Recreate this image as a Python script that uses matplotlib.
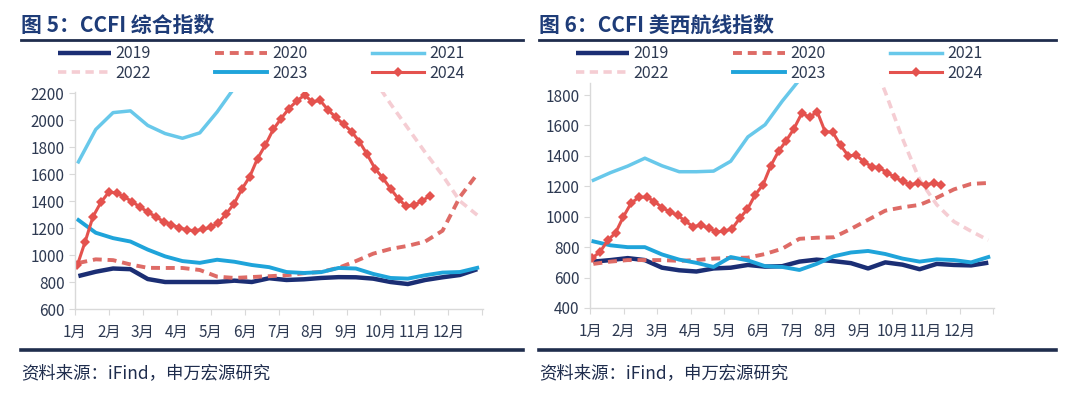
import numpy as np
import matplotlib
matplotlib.use("Agg")
import matplotlib.pyplot as plt
from matplotlib.lines import Line2D

plt.rcParams["font.family"] = ["Noto Sans CJK SC", "DejaVu Sans"]

nan = np.nan
months = [f"{i}月" for i in range(1, 13)]
years = ["2019", "2020", "2021", "2022", "2023", "2024"]

# half-month samples (24 per year) for 2019-2023, weekly for 2024
half_month = np.arange(24)
week = np.arange(46)

# 图5 CCFI 综合指数
ccfi_2019 = [844, 876, 900, 895, 822, 800, 800, 800, 800, 810, 800, 828,
             815, 820, 830, 836, 835, 825, 800, 785, 815, 835, 852, 895]
ccfi_2020 = [941, 968, 962, 930, 905, 904, 904, 889, 840, 830, 837, 843,
             850, 865, 875, 905, 955, 1010, 1045, 1068, 1100, 1180, 1430, 1600]
ccfi_2021 = [1690, 1930, 2055, 2068, 1960, 1900, 1865, 1905, 2060, 2240,
             nan, nan, nan, nan, nan, nan, nan, nan, nan, nan, nan, nan, nan, nan]
ccfi_2022 = [nan, nan, nan, nan, nan, nan, nan, nan, nan, nan, nan, nan,
             nan, nan, nan, nan, nan, 2310, 2120, 1940, 1760, 1590, 1400, 1296]
ccfi_2023 = [1259, 1165, 1125, 1100, 1040, 990, 955, 942, 965, 950, 926, 910,
             874, 867, 873, 904, 900, 860, 830, 825, 850, 870, 874, 905]
ccfi_2024 = [926, 1100, 1285, 1390, 1465, 1460, 1430, 1395, 1355, 1318,
             1284, 1248, 1224, 1202, 1186, 1180, 1190, 1205, 1238, 1305,
             1380, 1488, 1580, 1715, 1815, 1930, 2010, 2085, 2140, 2185,
             2135, 2145, 2075, 2020, 1968, 1915, 1840, 1745, 1640, 1570,
             1490, 1415, 1360, 1370, 1400, 1440]

# 图6 CCFI 美西航线指数
west_2019 = [705, 715, 728, 715, 665, 648, 640, 660, 665, 683, 672, 675,
             705, 718, 708, 695, 660, 700, 685, 655, 690, 683, 680, 698]
west_2020 = [690, 705, 715, 715, 715, 710, 715, 725, 729, 731, 755, 790,
             855, 862, 865, 920, 980, 1040, 1062, 1078, 1125, 1180, 1216, 1222]
west_2021 = [1240, 1290, 1333, 1385, 1335, 1296, 1296, 1300, 1365, 1525,
             1605, 1760, 1900, 2000, nan, nan, nan, nan, nan, nan, nan, nan, nan, nan]
west_2022 = [nan, nan, nan, nan, nan, nan, nan, nan, nan, nan, nan, nan,
             nan, nan, nan, nan, 2100, 1820, 1515, 1243, 1079, 968, 905, 846]
west_2023 = [838, 812, 800, 800, 752, 718, 697, 670, 735, 713, 675, 670,
             650, 690, 740, 765, 775, 755, 725, 705, 720, 715, 700, 735]
west_2024 = [729, 770, 845, 895, 1000, 1090, 1128, 1130, 1100, 1060,
             1032, 1010, 970, 935, 945, 926, 900, 905, 920, 990,
             1050, 1145, 1210, 1335, 1430, 1500, 1580, 1680, 1655, 1690,
             1560, 1555, 1470, 1400, 1405, 1362, 1330, 1322, 1290, 1260,
             1232, 1210, 1222, 1209, 1222, 1209]

colors = ["#1B2E74", "#DE6B66", "#68C8EA", "#F5CDD3", "#1FA4DA", "#E4524E"]
navy = "#1F2D4D"
title_c = "#1E3C78"
tick_c = "#2E3A52"
grid_c = "#D9D9D9"


def hm_pos(i):
    return 0.1 + i * (11.75 / 23)


def wk_pos(i):
    return 0.07 + i * 12 / 52


def draw(ax, series, ylim, yticks):
    xh = hm_pos(half_month)
    xw = wk_pos(week)
    s19, s20, s21, s22, s23, s24 = series
    h = []
    h += ax.plot(xh, s19, color=colors[0], lw=3.2, solid_capstyle="butt")
    h += ax.plot(xh, s20, color=colors[1], lw=2.8, dashes=(2.3, 1.5))
    h += ax.plot(xh, s21, color=colors[2], lw=2.5)
    h += ax.plot(xh, s22, color=colors[3], lw=2.6, dashes=(2.3, 1.5))
    h += ax.plot(xh, s23, color=colors[4], lw=2.8)
    h += ax.plot(xw, s24, color=colors[5], lw=2.2, marker="D", ms=5.5,
                 markeredgewidth=0)
    ax.set_xlim(0, 12.02)
    ax.set_ylim(*ylim)
    ax.set_xticks(range(13))
    ax.set_xticklabels(months + [""])
    ax.set_yticks(yticks)
    for sp in ["top", "right"]:
        ax.spines[sp].set_visible(False)
    for sp in ["left", "bottom"]:
        ax.spines[sp].set_color(grid_c)
        ax.spines[sp].set_linewidth(1)
    ax.tick_params(axis="both", direction="out", length=4, color=grid_c,
                   labelcolor=tick_c, labelsize=11)
    ax.tick_params(axis="x", pad=7)
    order = [0, 3, 1, 4, 2, 5]
    return [h[i] for i in order], [years[i] for i in order]


fig = plt.figure(figsize=(10.8, 3.97), dpi=100)
W, H = 1080, 397

ax1 = fig.add_axes([75 / W, (H - 309) / H, 408 / W, (309 - 91.7) / H])
hl, ll = draw(ax1, [ccfi_2019, ccfi_2020, ccfi_2021, ccfi_2022, ccfi_2023, ccfi_2024],
              (600, 2210), range(600, 2201, 200))

ax2 = fig.add_axes([590 / W, (H - 308) / H, 404 / W, (308 - 82.9) / H])
hr, lr = draw(ax2, [west_2019, west_2020, west_2021, west_2022, west_2023, west_2024],
              (400, 1880), range(400, 1801, 200))

for ax, hs, ls, lx in [(ax1, hl, ll, 58), (ax2, hr, lr, 576)]:
    ax.legend(hs, ls, ncol=3, loc="center left",
              bbox_to_anchor=(lx / W, 1 - 63.5 / H), bbox_transform=fig.transFigure,
              frameon=False, handlelength=3.3, handletextpad=0.3,
              columnspacing=4.0, labelspacing=0.15, fontsize=11.5,
              borderpad=0, borderaxespad=0, labelcolor=tick_c)

titles = ["图 5：CCFI 综合指数", "图 6：CCFI 美西航线指数"]
for title, x0, x1 in [(titles[0], 21, 523), (titles[1], 539, 1056)]:
    fig.text(x0 / W, 1 - 25 / H, title, fontsize=15, fontweight="bold",
             color=title_c, va="center", ha="left")
    fig.add_artist(Line2D([x0 / W, x1 / W], [1 - 40 / H] * 2, color=navy, lw=2.0))
    fig.add_artist(Line2D([x0 / W, x1 / W], [1 - 350 / H] * 2, color=navy, lw=2.6))
    fig.text(x0 / W, 1 - 373 / H, "资料来源：iFind，申万宏源研究", fontsize=12.5,
             color=navy, va="center", ha="left")

fig.savefig("out.png", dpi=100)
